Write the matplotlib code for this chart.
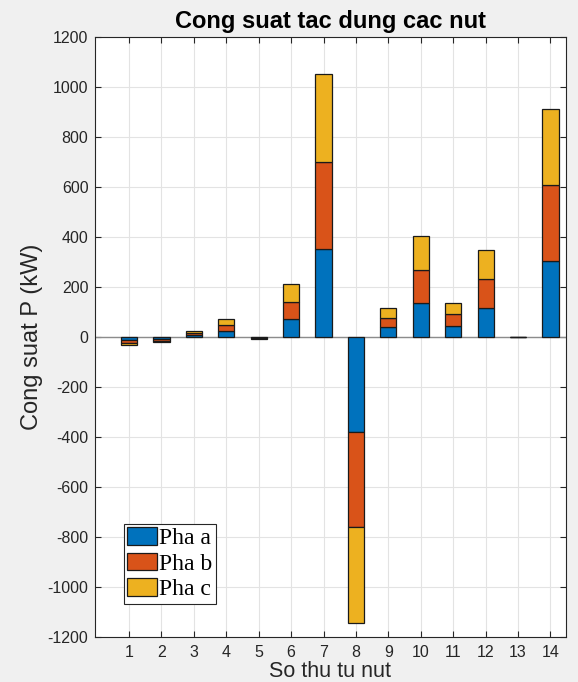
import numpy as np
import matplotlib
matplotlib.use("Agg")
import matplotlib.pyplot as plt

plt.rcParams["font.family"] = ["Liberation Sans", "DejaVu Sans"]
plt.rcParams["axes.unicode_minus"] = False

# Node numbers and active power per phase (kW)
nodes = np.arange(1, 15)
pha_a = [-11, -7, 8, 25, -2, 71, 351, -381, 39, 135, 46, 117, 0, 305]
pha_b = [-11, -7, 8, 25, -2, 71, 351, -381, 39, 135, 46, 115, 0, 305]
pha_c = [-11, -7, 8, 24, -2, 71, 350, -381, 38, 134, 46, 115, 0, 303]
labels = ["Pha a", "Pha b", "Pha c"]
colors = ["#0072BD", "#D95319", "#EDB120"]

fig = plt.figure(figsize=(5.78, 6.82), dpi=100, facecolor="#f0f0f0")
ax = fig.add_axes([0.1638, 0.066, 0.8149, 0.8797])
ax.set_facecolor("white")
ax.set_axisbelow(True)

# stack positive values upward and negative values downward
pos_base = np.zeros(len(nodes))
neg_base = np.zeros(len(nodes))
for vals, lab, col in zip([pha_a, pha_b, pha_c], labels, colors):
    vals = np.array(vals, dtype=float)
    bottom = np.where(vals >= 0, pos_base, neg_base)
    ax.bar(nodes, vals, width=0.5, bottom=bottom, color=col,
           edgecolor="#1a1a1a", linewidth=0.9, label=lab, zorder=3)
    pos_base = pos_base + np.where(vals >= 0, vals, 0)
    neg_base = neg_base + np.where(vals < 0, vals, 0)

ax.axhline(0, color="#8c8c8c", linewidth=1.0, zorder=2)

ax.set_xlim(-0.06, 14.47)
ax.set_ylim(-1200, 1200)
ax.set_xticks(nodes)
ax.set_yticks(np.arange(-1200, 1201, 200))
ax.tick_params(direction="in", top=True, right=True, length=4,
               labelsize=11.5, colors="#262626", labelcolor="#262626")
ax.tick_params(axis="x", pad=5.5)
ax.tick_params(axis="y", pad=4.5)
ax.grid(True, color="#e3e3e3", linewidth=0.8)
for s in ax.spines.values():
    s.set_color("#262626")
    s.set_linewidth(0.8)

ax.set_title("Cong suat tac dung cac nut", fontsize=17, fontweight="bold",
             pad=6.5)
ax.set_xlabel("So thu tu nut", fontsize=15.5, color="#262626")
ax.xaxis.label.set_va("baseline")
ax.xaxis.set_label_coords(0.5, -0.0665)
ax.set_ylabel("Cong suat P (kW)", fontsize=17, color="#262626")
ax.yaxis.set_label_coords(-0.109, 0.5)

leg = ax.legend(loc="lower left", bbox_to_anchor=(0.062, 0.055),
                prop={"family": "Liberation Serif", "size": 17},
                fancybox=False, framealpha=1, edgecolor="#262626",
                handlelength=1.25, handleheight=0.78, handletextpad=0.1,
                labelspacing=0.15, borderpad=0.15, borderaxespad=0)
leg.get_frame().set_linewidth(0.8)

fig.savefig("out.png", dpi=100, facecolor=fig.get_facecolor())
